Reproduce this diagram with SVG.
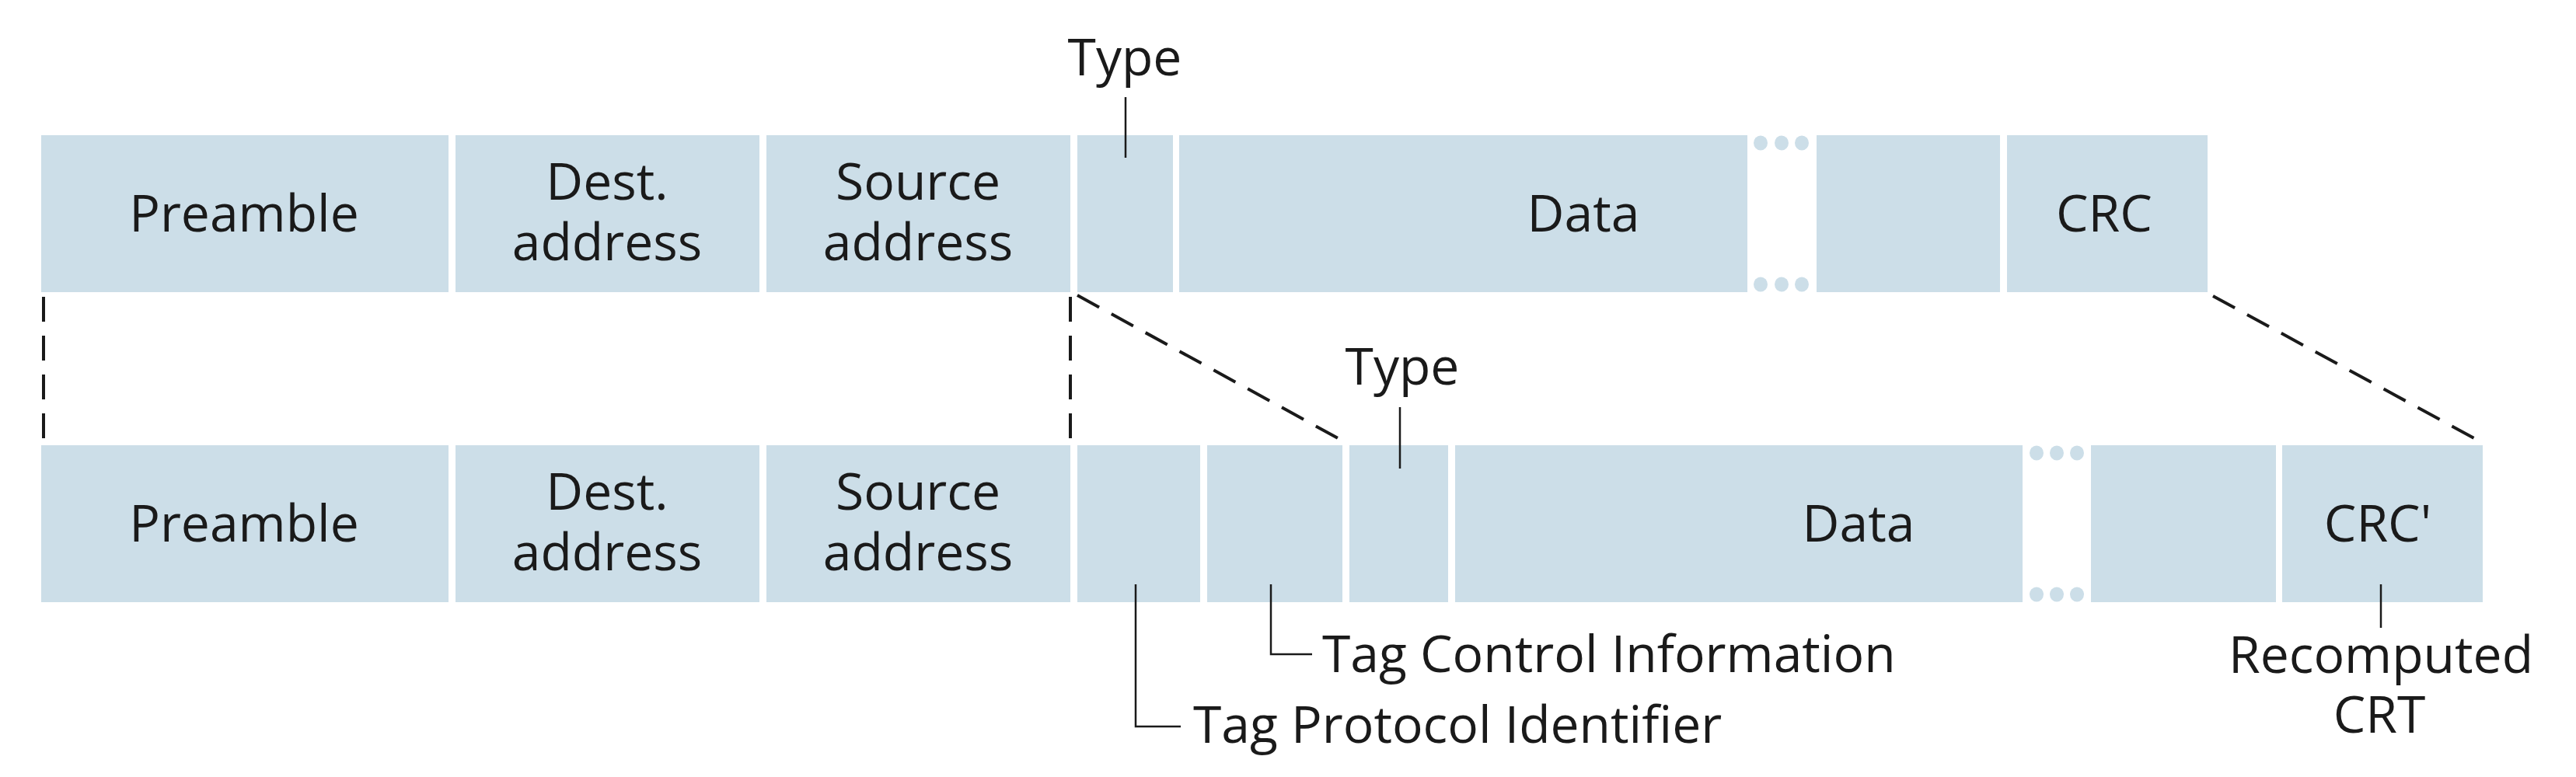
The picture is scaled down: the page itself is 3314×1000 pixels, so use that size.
<svg xmlns="http://www.w3.org/2000/svg" width="3314" height="1000" viewBox="0 0 3314 1000">
<style>
.f{fill:#CCDEE8}
.d{fill:#CCDEE8}
.t{font-family:"Open Sans","Noto Sans","Liberation Sans",sans-serif;font-size:66px;fill:#1a1a1a;text-anchor:middle}
.ts{font-family:"Open Sans","Noto Sans","Liberation Sans",sans-serif;font-size:66px;fill:#1a1a1a;text-anchor:start}
.dash{stroke:#1a1a1a;stroke-width:4;stroke-dasharray:32 18;fill:none}
.lead{stroke:#1a1a1a;stroke-width:2.5;fill:none}
</style>
<rect width="3314" height="1000" fill="#ffffff"/>
<g id="top-frame">
  <g id="t-preamble"><rect class="f" x="53" y="174" width="524" height="202"/><text class="t" x="314" y="298">Preamble</text></g>
  <g id="t-dest"><rect class="f" x="586" y="174" width="391" height="202"/><text class="t" x="781" y="257"><tspan x="781">Dest.</tspan><tspan x="781" dy="78">address</tspan></text></g>
  <g id="t-source"><rect class="f" x="986" y="174" width="391" height="202"/><text class="t" x="1181" y="257"><tspan x="1181">Source</tspan><tspan x="1181" dy="78">address</tspan></text></g>
  <g id="t-type"><rect class="f" x="1386" y="174" width="123" height="202"/></g>
  <g id="t-data"><rect class="f" x="1517" y="174" width="731" height="202"/><text class="t" x="2037" y="298">Data</text></g>
  <g id="t-dots"><ellipse class="d" cx="2265" cy="184" rx="9" ry="9.5"/><ellipse class="d" cx="2292" cy="184" rx="9" ry="9.5"/><ellipse class="d" cx="2318" cy="184" rx="9" ry="9.5"/><ellipse class="d" cx="2265" cy="366" rx="9" ry="9.5"/><ellipse class="d" cx="2292" cy="366" rx="9" ry="9.5"/><ellipse class="d" cx="2318" cy="366" rx="9" ry="9.5"/></g>
  <g id="t-tail"><rect class="f" x="2337" y="174" width="236" height="202"/></g>
  <g id="t-crc"><rect class="f" x="2582" y="174" width="258" height="202"/><text class="t" x="2707" y="298">CRC</text></g>
  <g id="t-type-label"><text class="t" x="1447" y="97">Type</text></g>
</g>
<g id="bottom-frame">
  <g id="b-preamble"><rect class="f" x="53" y="573" width="524" height="202"/><text class="t" x="314" y="697">Preamble</text></g>
  <g id="b-dest"><rect class="f" x="586" y="573" width="391" height="202"/><text class="t" x="781" y="656"><tspan x="781">Dest.</tspan><tspan x="781" dy="78">address</tspan></text></g>
  <g id="b-source"><rect class="f" x="986" y="573" width="391" height="202"/><text class="t" x="1181" y="656"><tspan x="1181">Source</tspan><tspan x="1181" dy="78">address</tspan></text></g>
  <g id="b-tpid"><rect class="f" x="1386" y="573" width="158" height="202"/></g>
  <g id="b-tci"><rect class="f" x="1553" y="573" width="174" height="202"/></g>
  <g id="b-type"><rect class="f" x="1736" y="573" width="127" height="202"/></g>
  <g id="b-data"><rect class="f" x="1872" y="573" width="730" height="202"/><text class="t" x="2391" y="697">Data</text></g>
  <g id="b-dots"><ellipse class="d" cx="2620" cy="583" rx="9" ry="9.5"/><ellipse class="d" cx="2646" cy="583" rx="9" ry="9.5"/><ellipse class="d" cx="2672" cy="583" rx="9" ry="9.5"/><ellipse class="d" cx="2620" cy="765" rx="9" ry="9.5"/><ellipse class="d" cx="2646" cy="765" rx="9" ry="9.5"/><ellipse class="d" cx="2672" cy="765" rx="9" ry="9.5"/></g>
  <g id="b-tail"><rect class="f" x="2690" y="573" width="238" height="202"/></g>
  <g id="b-crc"><rect class="f" x="2936" y="573" width="258" height="202"/><text class="t" x="3059" y="697">CRC'</text></g>
  <g id="b-type-label"><text class="t" x="1804" y="495">Type</text></g>
  <g id="b-tpid-label"><text class="ts" x="1535" y="956">Tag Protocol Identifier</text></g>
  <g id="b-tci-label"><text class="ts" x="1701" y="865">Tag Control Information</text></g>
  <g id="b-crc-label"><text class="t" x="3063" y="866"><tspan x="3063">Recomputed</tspan><tspan x="3061" dy="77">CRT</tspan></text></g>
</g>
<g id="connectors">
  <line class="dash" x1="56" y1="382" x2="56" y2="566"/>
  <line class="dash" x1="1377" y1="382" x2="1377" y2="566"/>
  <line class="dash" x1="1386" y1="380" x2="1723" y2="565"/>
  <line class="dash" x1="2847" y1="381" x2="3183" y2="564"/>
  <line class="lead" x1="1448" y1="125" x2="1448" y2="203"/>
  <line class="lead" x1="1801" y1="524" x2="1801" y2="603"/>
  <polyline class="lead" points="1461,752 1461,935 1519,935"/>
  <polyline class="lead" points="1635,752 1635,842 1688,842"/>
  <line class="lead" x1="3063" y1="752" x2="3063" y2="808"/>
</g>
</svg>
